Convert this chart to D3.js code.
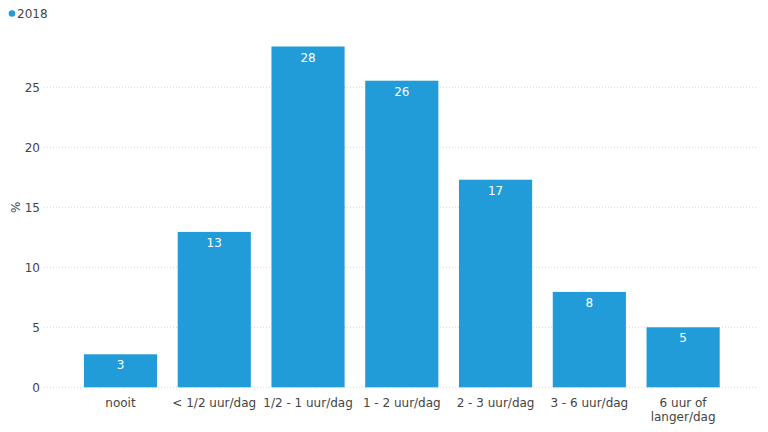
<!DOCTYPE html>
<html><head><meta charset="utf-8">
<script src="https://cdn.jsdelivr.net/npm/d3@7"></script>
<style>body{margin:0;background:#fff}svg{display:block}text{font-family:"DejaVu Sans",Verdana,sans-serif}</style>
</head><body>
<svg id="c" width="768" height="432"></svg>
<script>
const categories = ["nooit", "< 1/2 uur/dag", "1/2 - 1 uur/dag", "1 - 2 uur/dag", "2 - 3 uur/dag", "3 - 6 uur/dag", "6 uur of\nlanger/dag"];
const values2018 = [2.75, 12.95, 28.4, 25.55, 17.3, 7.95, 5.0];
const yTicks = [0, 5, 10, 15, 20, 25];
const seriesName = "2018";

const svg = d3.select("#c");
const color = "#229cd8";
const x = d3.scaleBand().domain(categories).range([73.6, 730]).paddingInner(0.22).paddingOuter(0.11);
const y = d3.scaleLinear().domain([0, 25]).range([387.3, 87.3]);

// gridlines
svg.append("g").selectAll("line").data(yTicks).join("line")
  .attr("x1", 44).attr("x2", 758)
  .attr("y1", d => y(d)).attr("y2", d => y(d))
  .attr("stroke", "#d8d8d8").attr("stroke-width", 1).attr("stroke-dasharray", "1,2");

// y axis labels
svg.append("g").selectAll("text").data(yTicks).join("text")
  .attr("x", 40).attr("y", d => y(d)).attr("dy", "0.35em")
  .attr("text-anchor", "end").attr("font-size", 12).attr("fill", "#444")
  .text(d => d);

svg.append("text").attr("transform", "translate(16," + y(15) + ") rotate(-90)")
  .attr("text-anchor", "middle").attr("dy", "0.35em").attr("font-size", 12).attr("fill", "#444").text("%");

// bars
svg.append("g").selectAll("rect").data(values2018).join("rect")
  .attr("x", (d, i) => x(categories[i])).attr("width", x.bandwidth())
  .attr("y", d => y(d)).attr("height", d => y(0) - y(d))
  .attr("fill", color);

// value labels
svg.append("g").selectAll("text").data(values2018).join("text")
  .attr("x", (d, i) => x(categories[i]) + x.bandwidth() / 2)
  .attr("y", d => y(d) + 15).attr("text-anchor", "middle")
  .attr("font-size", 12).attr("fill", "#fff")
  .text(d => Math.round(d));

// x labels
const xl = svg.append("g").selectAll("text").data(categories).join("text")
  .attr("x", d => x(d) + x.bandwidth() / 2).attr("y", 407)
  .attr("text-anchor", "middle").attr("font-size", 12).attr("fill", "#444");
xl.each(function(d) {
  const parts = d.split("\n");
  d3.select(this).selectAll("tspan").data(parts).join("tspan")
    .attr("x", x(d) + x.bandwidth() / 2).attr("dy", (p, i) => i === 0 ? 0 : 14).text(p => p);
});

// legend
svg.append("circle").attr("cx", 12).attr("cy", 13.5).attr("r", 3.3).attr("fill", color);
svg.append("text").attr("x", 17).attr("y", 14).attr("dy", "0.35em").attr("font-size", 12).attr("fill", "#444").text(seriesName);
</script>
</body></html>
